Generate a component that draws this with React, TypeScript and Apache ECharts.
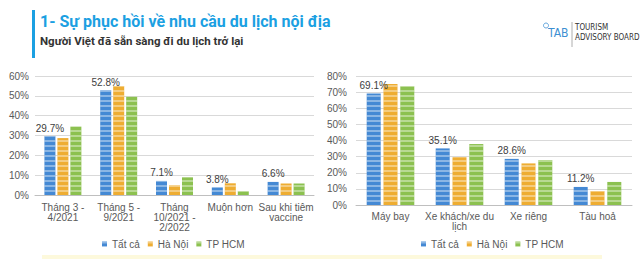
import React, { useEffect, useRef } from "react";
import * as echarts from "echarts";

// Series names (shared by both panels)
const groups = ["Tất cả", "Hà Nội", "TP HCM"];
const colors = ["#4489d4", "#eead32", "#8cc150"];

// Left panel: when people plan to travel again
const timeCats = [
  "Tháng 3 -\n4/2021",
  "Tháng 5 -\n9/2021",
  "Tháng\n10/2021 -\n2/2022",
  "Muộn hơn",
  "Sau khi tiêm\nvaccine",
];
const timeAll = [29.7, 52.8, 7.1, 3.8, 6.6];
const timeHaNoi = [28.7, 55.0, 4.9, 5.9, 5.8];
const timeHcm = [34.5, 49.6, 8.9, 1.9, 5.8];
const timeMax = 60;

// Right panel: preferred means of transport
const modeCats = ["Máy bay", "Xe khách/xe du\nlịch", "Xe riêng", "Tàu hoả"];
const modeAll = [69.1, 35.1, 28.6, 11.2];
const modeHaNoi = [75.0, 29.6, 25.8, 8.7];
const modeHcm = [73.6, 37.8, 27.9, 14.3];
const modeMax = 80;

const FONT = "'Liberation Sans', Arial, sans-serif";
const GREY = "#595959";

const stripes = {
  symbol: "rect",
  symbolSize: 1,
  color: "rgba(255,255,255,0.38)",
  dashArrayX: [1, 0],
  dashArrayY: [1.4, 2.6],
  rotation: 0,
};

function barSeries(
  name: string,
  idx: number,
  data: number[],
  axisIndex: number,
  withLabel: boolean,
  barWidth: number,
  barGap: string
) {
  return {
    type: "bar",
    name,
    xAxisIndex: axisIndex,
    yAxisIndex: axisIndex,
    data,
    barWidth,
    barGap,
    itemStyle: { color: colors[idx], decal: stripes },
    label: withLabel
      ? {
          show: true,
          position: "top",
          distance: 3,
          formatter: "{c}%",
          fontSize: 10,
          color: "#404040",
          fontFamily: FONT,
        }
      : { show: false },
  };
}

function valueAxis(gridIndex: number, max: number, margin: number) {
  return {
    type: "value",
    gridIndex,
    min: 0,
    max,
    interval: 10,
    axisLabel: { formatter: "{value}%", fontSize: 10, color: GREY, fontFamily: FONT, margin },
    axisLine: { show: false },
    axisTick: { show: false },
    splitLine: { lineStyle: { color: "#d9d9d9", width: 1 } },
  };
}

function categoryAxis(gridIndex: number, data: string[], margin: number) {
  return {
    type: "category",
    gridIndex,
    data,
    axisLabel: {
      interval: 0,
      fontSize: 10,
      lineHeight: 10,
      color: GREY,
      fontFamily: FONT,
      margin,
    },
    axisTick: { show: false },
    axisLine: { lineStyle: { color: "#bfbfbf", width: 1 } },
  };
}

function legend(left: number) {
  return {
    left,
    top: 239,
    padding: 0,
    itemWidth: 5,
    itemHeight: 5,
    itemGap: 8,
    icon: "rect",
    data: groups,
    textStyle: { fontSize: 10, color: GREY, fontFamily: FONT },
  };
}

export default function App() {
  const ref = useRef<HTMLDivElement>(null);

  useEffect(() => {
    if (!ref.current) return;
    const chart = echarts.init(ref.current, null, { renderer: "svg" });
    chart.setOption({
      animation: false,
      backgroundColor: "#ffffff",
      grid: [
        { left: 35, right: 326, top: 76, bottom: 64 },
        { left: 356, right: 8, top: 76, bottom: 54 },
      ],
      xAxis: [categoryAxis(0, timeCats, 7), categoryAxis(1, modeCats, 6)],
      yAxis: [valueAxis(0, timeMax, 6), valueAxis(1, modeMax, 9)],
      legend: [legend(102), legend(421)],
      series: [
        barSeries(groups[0], 0, timeAll, 0, true, 11, "18%"),
        barSeries(groups[1], 1, timeHaNoi, 0, false, 11, "18%"),
        barSeries(groups[2], 2, timeHcm, 0, false, 11, "18%"),
        barSeries(groups[0], 0, modeAll, 1, true, 14, "20%"),
        barSeries(groups[1], 1, modeHaNoi, 1, false, 14, "20%"),
        barSeries(groups[2], 2, modeHcm, 1, false, 14, "20%"),
      ],
      graphic: [
        { type: "rect", shape: { x: 32, y: 10, width: 3, height: 48 }, style: { fill: "#1ba0e2" } },
        {
          type: "text",
          x: 40,
          y: 13,
          style: {
            text: "1- Sự phục hồi về nhu cầu du lịch nội địa",
            font: "bold 16px Roboto, 'Open Sans', sans-serif",
            fill: "#1ba0e2",
          },
        },
        {
          type: "text",
          x: 40,
          y: 35,
          style: {
            text: "Người Việt đã sẵn sàng đi du lịch trở lại",
            font: "bold 11.5px Roboto, 'Open Sans', sans-serif",
            fill: "#333333",
          },
        },
        {
          type: "circle",
          shape: { cx: 546, cy: 25.5, r: 2.5 },
          style: { fill: "none", stroke: "#3d8fd2", lineWidth: 0.8 },
        },
        {
          type: "text",
          x: 548,
          y: 27,
          style: {
            text: "TAB",
            font: "12px 'Liberation Sans Narrow', 'DejaVu Sans Condensed', sans-serif",
            fill: "#3d8fd2",
          },
        },
        { type: "line", shape: { x1: 572, y1: 22, x2: 572, y2: 47 }, style: { stroke: "#999999", lineWidth: 0.8 } },
        {
          type: "text",
          x: 575,
          y: 23,
          style: {
            text: "TOURISM",
            font: "8px 'Liberation Sans Narrow', 'DejaVu Sans Condensed', sans-serif",
            fill: "#333333",
          },
        },
        {
          type: "text",
          x: 575,
          y: 33,
          style: {
            text: "ADVISORY BOARD",
            font: "8px 'Liberation Sans Narrow', 'DejaVu Sans Condensed', sans-serif",
            fill: "#333333",
          },
        },
        { type: "rect", shape: { x: 42, y: 255, width: 560, height: 4 }, style: { fill: "#fdf9dc" } },
      ],
    });
    return () => chart.dispose();
  }, []);

  return (
    <div
      ref={ref}
      style={{ position: "fixed", left: 0, top: 0, width: 640, height: 259 }}
    />
  );
}
